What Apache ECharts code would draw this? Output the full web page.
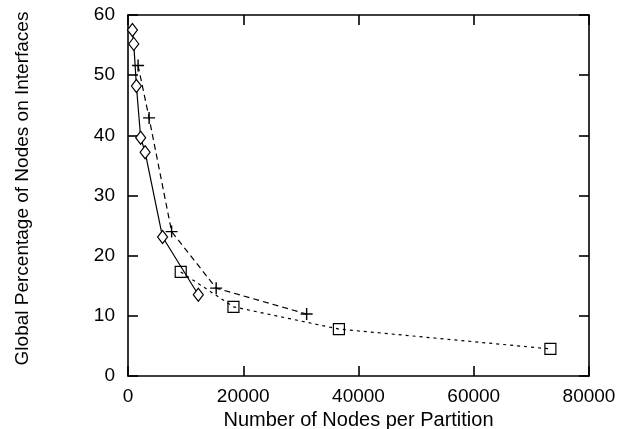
<!DOCTYPE html>
<html>
<head>
<meta charset="utf-8">
<script src="https://cdn.jsdelivr.net/npm/echarts@6/dist/echarts.min.js"></script>
<style>
  html, body { margin: 0; padding: 0; background: #fff; }
  #chart { width: 618px; height: 429px; }
</style>
</head>
<body>
<div id="chart"></div>
<script>
// diamonds, solid line
const diamondX = [770, 1000, 1460, 2200, 2970, 6000, 12200]
const diamondY = [57.5, 55.2, 48.2, 39.6, 37.2, 23.1, 13.5]
// plus markers, dashed line
const plusX = [1750, 3660, 7570, 15300, 31000]
const plusY = [51.6, 42.9, 24.0, 14.6, 10.3]
// squares, dotted line
const squareX = [9150, 18300, 36600, 73300]
const squareY = [17.3, 11.5, 7.8, 4.5]

const xTicks = [0, 20000, 40000, 60000, 80000]
const yTicks = [0, 10, 20, 30, 40, 50, 60]

function pairs(xs, ys){
    return xs.map((x, i) => [x, ys[i]])
}

const font = 'Liberation Sans, Arial, sans-serif'
const chart = echarts.init(document.getElementById('chart'))

const baseX = {
    type: 'value',
    min: xTicks[0],
    max: xTicks[xTicks.length - 1],
    interval: 20000,
    splitLine: { show: false },
    axisLine: { show: true, onZero: false, lineStyle: { color: '#000', width: 1.6 } },
    axisTick: { show: true, inside: true, length: 10, lineStyle: { color: '#000', width: 1.6 } }
}
const baseY = {
    type: 'value',
    min: yTicks[0],
    max: yTicks[yTicks.length - 1],
    interval: 10,
    splitLine: { show: false },
    axisLine: { show: true, onZero: false, lineStyle: { color: '#000', width: 1.6 } },
    axisTick: { show: true, inside: true, length: 10, lineStyle: { color: '#000', width: 1.6 } }
}

chart.setOption({
    backgroundColor: '#fff',
    animation: false,
    grid: { left: 128, right: 29, top: 15, bottom: 53, outerBoundsMode: 'none' },
    xAxis: [
        Object.assign({}, baseX, {
            position: 'bottom',
            name: 'Number of Nodes per Partition',
            nameLocation: 'middle',
            nameGap: 28,
            nameTextStyle: { fontFamily: font, fontSize: 20, color: '#000' },
            axisLabel: { fontFamily: font, fontSize: 19, color: '#000', margin: 11,
                formatter: v => String(v) }
        }),
        Object.assign({}, baseX, { position: 'top', axisLabel: { show: false } })
    ],
    yAxis: [
        Object.assign({}, baseY, {
            position: 'left',
            name: 'Global Percentage of Nodes on Interfaces',
            nameLocation: 'middle',
            nameGap: 96,
            nameTextStyle: { fontFamily: font, fontSize: 19, color: '#000', padding: [0, 0, 0, 14] },
            axisLabel: { fontFamily: font, fontSize: 19, color: '#000', margin: 13 }
        }),
        Object.assign({}, baseY, { position: 'right', axisLabel: { show: false } })
    ],
    series: [
        {
            type: 'line',
            data: pairs(diamondX, diamondY),
            symbol: 'diamond',
            symbolSize: [10, 13],
            lineStyle: { color: '#000', width: 1.2, type: 'solid' },
            itemStyle: { color: '#fff', borderColor: '#000', borderWidth: 1.2 }
        },
        {
            type: 'line',
            data: pairs(plusX, plusY),
            symbol: 'path://M5,0L5,10M0,5L10,5',
            symbolSize: 12,
            lineStyle: { color: '#000', width: 1.2, type: [6, 4] },
            itemStyle: { color: 'transparent', borderColor: '#000', borderWidth: 1.4 }
        },
        {
            type: 'line',
            data: pairs(squareX, squareY),
            symbol: 'rect',
            symbolSize: 11,
            lineStyle: { color: '#000', width: 1.2, type: [3, 4] },
            itemStyle: { color: 'transparent', borderColor: '#000', borderWidth: 1.2 }
        }
    ]
})
</script>
</body>
</html>
